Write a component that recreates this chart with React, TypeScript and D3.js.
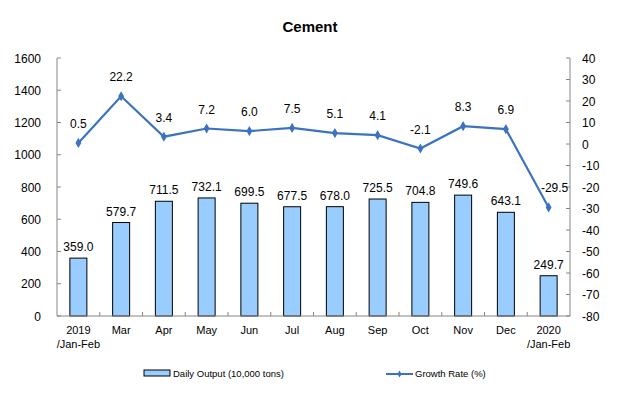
import React, { useEffect } from 'react';
import * as d3 from 'd3';

const categories = ['2019\n/Jan-Feb', 'Mar', 'Apr', 'May', 'Jun', 'Jul', 'Aug', 'Sep', 'Oct', 'Nov', 'Dec', '2020\n/Jan-Feb'];
const dailyOutput = [359.0, 579.7, 711.5, 732.1, 699.5, 677.5, 678.0, 725.5, 704.8, 749.6, 643.1, 249.7];
const growthRate = [0.5, 22.2, 3.4, 7.2, 6.0, 7.5, 5.1, 4.1, -2.1, 8.3, 6.9, -29.5];
const leftTicks = [0, 200, 400, 600, 800, 1000, 1200, 1400, 1600];
const rightTicks = [40, 30, 20, 10, 0, -10, -20, -30, -40, -50, -60, -70, -80];

const W = 620;
const H = 419;
const margin = { top: 58, right: 50, bottom: 103, left: 57 };
const font = 'Liberation Sans, Arial, sans-serif';
const narrow = 'Liberation Sans Narrow, Liberation Sans, Arial, sans-serif';
const lineColor = '#3b73c0';
const axisColor = '#868686';

export default function App() {
  useEffect(() => {
    document.body.style.margin = '0';
  }, []);

  const x0 = margin.left;
  const x1 = W - margin.right;
  const y0 = H - margin.bottom;
  const yTop = margin.top;

  const x = d3.scaleBand<string>().domain(categories).range([x0, x1]).padding(0);
  const yL = d3.scaleLinear().domain([0, 1600]).range([y0, yTop]);
  const yR = d3.scaleLinear().domain([-80, 40]).range([y0, yTop]);
  const barW = 17;
  const cx = (c: string) => (x(c) as number) + x.bandwidth() / 2;

  const line = d3
    .line<number>()
    .x((_, i) => cx(categories[i]))
    .y((d) => yR(d));

  return (
    <svg width={W} height={H} style={{ display: 'block', background: '#fff' }}>
      <text x={310} y={32} textAnchor="middle" fontFamily={font} fontWeight="bold" fontSize={15}>
        Cement
      </text>

      {/* bars */}
      {dailyOutput.map((v, i) => (
        <g key={'b' + i}>
          <rect
            x={cx(categories[i]) - barW / 2}
            y={yL(v)}
            width={barW}
            height={y0 - yL(v)}
            fill="#99ccff"
            stroke="#000"
            strokeWidth={1}
          />
          <text x={cx(categories[i])} y={yL(v) - 7} textAnchor="middle" fontFamily={font} fontSize={12}>
            {v.toFixed(1)}
          </text>
        </g>
      ))}

      {/* axes */}
      <line x1={x0} x2={x0} y1={yTop} y2={y0} stroke={axisColor} />
      <line x1={x1} x2={x1} y1={yTop} y2={y0} stroke={axisColor} />
      <line x1={x0} x2={x1} y1={y0} y2={y0} stroke={axisColor} />
      {leftTicks.map((t) => (
        <g key={'l' + t}>
          <line x1={x0} x2={x0 + 4} y1={yL(t)} y2={yL(t)} stroke={axisColor} />
          <text x={41} y={yL(t) + 4.5} textAnchor="end" fontFamily={font} fontSize={12}>
            {t}
          </text>
        </g>
      ))}
      {rightTicks.map((t) => (
        <g key={'r' + t}>
          <line x1={x1 - 4} x2={x1} y1={yR(t)} y2={yR(t)} stroke={axisColor} />
          <text x={582} y={yR(t) + 4.5} textAnchor="start" fontFamily={font} fontSize={12}>
            {t}
          </text>
        </g>
      ))}
      {categories.map((c, i) => (
        <g key={'x' + i}>
          {i > 0 && <line x1={x(c)} x2={x(c)} y1={y0 - 4} y2={y0} stroke={axisColor} />}
          {c.split('\n').map((part, j) => (
            <text
              key={j}
              x={cx(c)}
              y={y0 + 18 + j * 14}
              textAnchor="middle"
              fontFamily={narrow}
              fontSize={11}
            >
              {part}
            </text>
          ))}
        </g>
      ))}

      {/* growth line */}
      <path d={line(growthRate) || ''} fill="none" stroke={lineColor} strokeWidth={2.2} />
      {growthRate.map((v, i) => (
        <g key={'p' + i}>
          <path
            d={d3.symbol(d3.symbolDiamond, 30)() || ''}
            transform={`translate(${cx(categories[i])},${yR(v)})`}
            fill={lineColor}
          />
          <text
            x={cx(categories[i]) + (i === categories.length - 1 ? 6 : 0)}
            y={yR(v) - 15}
            textAnchor="middle"
            fontFamily={font}
            fontSize={12}
          >
            {v.toFixed(1)}
          </text>
        </g>
      ))}

      {/* legend */}
      <rect x={144} y={370} width={26} height={6} fill="#99ccff" stroke="#000" strokeWidth={1} />
      <text x={173} y={377} fontFamily={narrow} fontSize={9.5}>
        Daily Output (10,000 tons)
      </text>
      <line x1={386} x2={413} y1={374} y2={374} stroke={lineColor} strokeWidth={2} />
      <path d={d3.symbol(d3.symbolDiamond, 14)() || ''} transform="translate(399.5,374)" fill={lineColor} />
      <text x={415} y={377} fontFamily={narrow} fontSize={9.5}>
        Growth Rate (%)
      </text>
    </svg>
  );
}
